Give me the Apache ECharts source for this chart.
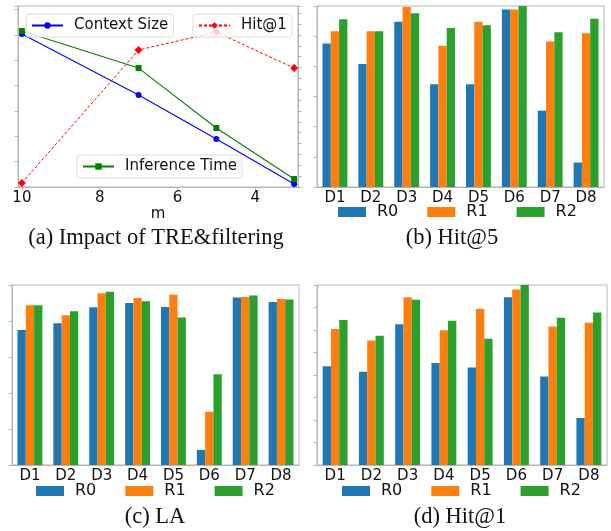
<!DOCTYPE html>
<html><head><meta charset="utf-8">
<script src="https://cdn.jsdelivr.net/npm/echarts@6/dist/echarts.min.js"></script>
<style>html,body{margin:0;padding:0;background:#fff}#c{width:611px;height:531px}</style>
</head><body><div id="c"></div>
<script>
// ---- Data ----
const mValues = [10, 7, 5, 3];
const contextSize = [0.845, 0.508, 0.265, 0.017];
const inferenceTime = [0.862, 0.657, 0.326, 0.044];
const hitAt1Line = [0.022, 0.757, 0.856, 0.657];
const mTickLabels = [10, 8, 6, 4];

const datasets = ['D1', 'D2', 'D3', 'D4', 'D5', 'D6', 'D7', 'D8'];
const seriesNames = ['R0', 'R1', 'R2'];

const hit5R0 = [0.876, 0.808, 0.948, 0.741, 0.741, 0.988, 0.653, 0.481];
const hit5R1 = [0.916, 0.916, 0.997, 0.868, 0.948, 0.988, 0.882, 0.910];
const hit5R2 = [0.956, 0.916, 0.976, 0.927, 0.936, 1.000, 0.913, 0.958];

const laR0 = [0.750, 0.788, 0.876, 0.900, 0.878, 0.084, 0.930, 0.906];
const laR1 = [0.888, 0.832, 0.954, 0.928, 0.946, 0.296, 0.934, 0.922];
const laR2 = [0.888, 0.854, 0.962, 0.910, 0.820, 0.504, 0.942, 0.920];

const hit1R0 = [0.639, 0.614, 0.826, 0.653, 0.633, 0.946, 0.593, 0.409];
const hit1R1 = [0.805, 0.753, 0.946, 0.799, 0.894, 0.980, 0.816, 0.832];
const hit1R2 = [0.845, 0.774, 0.934, 0.841, 0.761, 1.000, 0.854, 0.878];

const captions = ['(a) Impact of TRE&filtering', '(b) Hit@5', '(c) LA', '(d) Hit@1'];

// ---- Styles ----
const SANS = 'DejaVu Sans';
const SPINE = '#b5b5b5';
const barColors = ['#1f77b4', '#ff7f0e', '#2ca02c'];

const chart = echarts.init(document.getElementById('c'), null, {renderer: 'canvas'});

const grids = [
  {left: 18, top: 6, width: 280, height: 181},
  {left: 317, top: 6, width: 287, height: 181},
  {left: 12, top: 285, width: 287, height: 180},
  {left: 317, top: 285, width: 290, height: 180}
];
grids.forEach(g => { g.show = true; g.borderColor = SPINE; g.borderWidth = 1; g.backgroundColor = 'transparent'; });

const axisLineStyle = {show: true, lineStyle: {color: SPINE, width: 1}};
const tickStyle = {show: true, length: 3.5, lineStyle: {color: SPINE, width: 1}};

const xAxes = [
  {gridIndex: 0, type: 'value', inverse: true, min: 2.9, max: 10.1,
   name: 'm', nameLocation: 'middle', nameGap: 19,
   nameTextStyle: {fontFamily: SANS, fontSize: 15, color: '#111'},
   axisLine: axisLineStyle, splitLine: {show: false},
   axisTick: Object.assign({customValues: mTickLabels}, tickStyle),
   axisLabel: {customValues: mTickLabels, fontFamily: SANS, fontSize: 15, color: '#111', margin: 4}}
];
for (let i = 1; i <= 3; i++) {
  xAxes.push({gridIndex: i, type: 'category', data: datasets,
    axisLine: axisLineStyle, axisTick: {show: false}, splitLine: {show: false},
    axisLabel: {fontFamily: SANS, fontSize: 15, color: '#111', margin: 4, interval: 0}});
}

const yBase = (gi, min, max, interval) => ({gridIndex: gi, type: 'value', min, max, interval,
  axisLine: axisLineStyle, axisTick: tickStyle, axisLabel: {show: false}, splitLine: {show: false}});
const yAxes = [
  yBase(0, 0, 1, 0.14),
  Object.assign(yBase(0, 0, 1, 0.06), {position: 'right'}),
  yBase(1, 0.4, 1.0, 0.1),
  yBase(2, 0, 1.0, 0.2),
  yBase(3, 0.2, 1.0, 0.1)
];

const lineData = arr => mValues.map((m, i) => [m, arr[i]]);
const series = [
  {name: 'Context Size', type: 'line', xAxisIndex: 0, yAxisIndex: 0, data: lineData(contextSize),
   color: '#0000ff', symbol: 'circle', symbolSize: 6, lineStyle: {width: 1.1, color: '#0000ff'}, z: 3},
  {name: 'Inference Time', type: 'line', xAxisIndex: 0, yAxisIndex: 0, data: lineData(inferenceTime),
   color: '#008000', symbol: 'rect', symbolSize: 6, lineStyle: {width: 1.1, color: '#008000'}, z: 3},
  {name: 'Hit@1', type: 'line', xAxisIndex: 0, yAxisIndex: 1, data: lineData(hitAt1Line),
   color: '#ff0000', symbol: 'diamond', symbolSize: 8, lineStyle: {width: 1, color: '#ff0000', type: [3, 2]}, z: 3}
];
const barSets = [[hit5R0, hit5R1, hit5R2], [laR0, laR1, laR2], [hit1R0, hit1R1, hit1R2]];
barSets.forEach((set, p) => {
  set.forEach((vals, k) => {
    series.push({name: seriesNames[k], type: 'bar', xAxisIndex: p + 1, yAxisIndex: p + 2,
      data: vals, barWidth: 8.3, barGap: '0%', itemStyle: {color: barColors[k]}});
  });
});

const lineLegend = (name, left, top) => ({
  data: [name], left, top, orient: 'horizontal',
  padding: [4, 5, 4, 5], itemWidth: 31, itemHeight: 8,
  backgroundColor: 'rgba(255,255,255,0.8)', borderColor: '#dcdcdc', borderWidth: 1, borderRadius: 3,
  textStyle: {fontFamily: SANS, fontSize: 15, color: '#111', padding: [0, 0, 0, 6]},
  selectedMode: false, z: 10
});
const barLegend = (left, top) => ({
  data: seriesNames, left, top, orient: 'horizontal', padding: 0,
  itemWidth: 28, itemHeight: 10, itemGap: 29, icon: 'rect',
  textStyle: {fontFamily: SANS, fontSize: 16, color: '#111', padding: [0, 0, 0, 6]},
  selectedMode: false
});
const legends = [
  lineLegend('Context Size', 26, 14),
  lineLegend('Hit@1', 193, 14),
  lineLegend('Inference Time', 77, 155),
  barLegend(338, 204),
  barLegend(36, 483),
  barLegend(342, 483)
];

const capPos = [[156, 238], [452, 238], [155, 517], [460, 517]];

chart.setOption({
  animation: false,
  grid: grids, xAxis: xAxes, yAxis: yAxes, series, legend: legends,
  graphic: captions.map((t, i) => ({
    type: 'text', x: capPos[i][0], y: capPos[i][1],
    style: {text: t, font: '22.5px "Liberation Serif"', fill: '#111', align: 'center', verticalAlign: 'middle'}
  }))
});
</script></body></html>
